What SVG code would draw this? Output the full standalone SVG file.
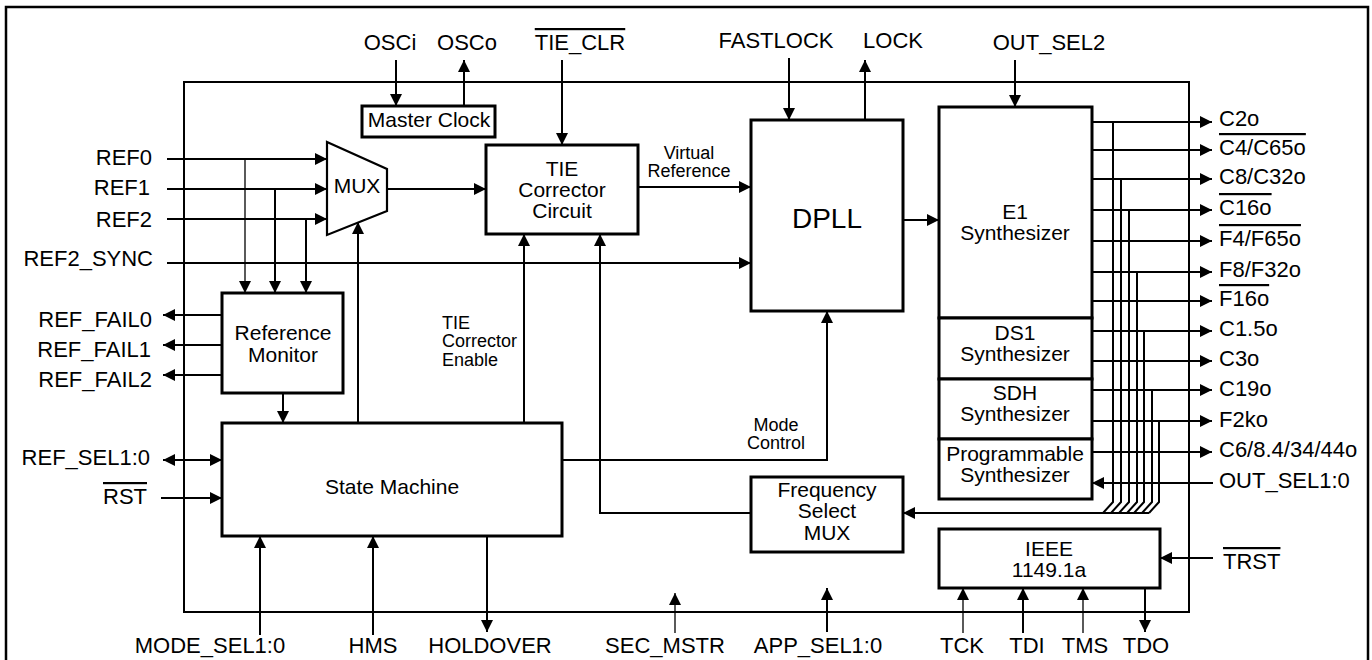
<svg xmlns="http://www.w3.org/2000/svg" width="1372" height="660" viewBox="0 0 1372 660">
<defs>
<style>
text{font-family:"Liberation Sans",Arial,sans-serif;fill:#000}
.lbl{font-size:22px}
.in{font-size:21px;text-anchor:middle}
.sm{font-size:18px}
.box{fill:#fff;stroke:#000;stroke-width:3}
.w{fill:none;stroke:#000;stroke-width:2}
.t{fill:none;stroke:#000;stroke-width:1.3}
.a{marker-end:url(#ah)}
.ol{text-decoration:overline}
</style>
<marker id="ah" viewBox="0 0 12 12" refX="12" refY="6" markerWidth="12" markerHeight="12" markerUnits="userSpaceOnUse" orient="auto-start-reverse">
<path d="M0,0 L12,6 L0,12 z" fill="#000"/>
</marker>
</defs>
<rect width="1372" height="660" fill="#fff"/>
<g id="frame">
<rect x="6" y="7" width="1362" height="670" fill="none" stroke="#000" stroke-width="2.5"/>
<rect x="184" y="82" width="1005" height="530" fill="none" stroke="#000" stroke-width="2"/>
</g>
<g id="master-clock"><rect class="box" x="362" y="106" width="133" height="31"/><text class="in" x="429" y="127">Master Clock</text></g>
<g id="mux"><path d="M327,142 L387,169 L387,211 L327,235 Z" fill="#fff" stroke="#000" stroke-width="2.2"/><text class="in" x="357" y="193">MUX</text></g>
<g id="tie-corrector"><rect class="box" x="486" y="145" width="152" height="89"/><text class="in" x="562" y="176">TIE</text><text class="in" x="562" y="197">Corrector</text><text class="in" x="562" y="218">Circuit</text></g>
<g id="dpll"><rect class="box" x="751" y="120" width="152" height="191"/><text x="827" y="228" font-size="28" text-anchor="middle">DPLL</text></g>
<g id="ref-monitor"><rect class="box" x="222" y="293" width="121" height="100"/><text class="in" x="283" y="340">Reference</text><text class="in" x="283" y="362">Monitor</text></g>
<g id="state-machine"><rect class="box" x="222" y="423" width="340" height="113"/><text class="in" x="392" y="494">State Machine</text></g>
<g id="freq-select"><rect class="box" x="751" y="477" width="152" height="75"/><text class="in" x="827" y="497">Frequency</text><text class="in" x="827" y="518">Select</text><text class="in" x="827" y="540">MUX</text></g>
<g id="e1-synth"><rect class="box" x="939" y="107" width="153" height="211"/><text class="in" x="1015" y="219">E1</text><text class="in" x="1015" y="240">Synthesizer</text></g>
<g id="ds1-synth"><rect class="box" x="939" y="318" width="153" height="61"/><text class="in" x="1015" y="340">DS1</text><text class="in" x="1015" y="361">Synthesizer</text></g>
<g id="sdh-synth"><rect class="box" x="939" y="379" width="153" height="60"/><text class="in" x="1015" y="400">SDH</text><text class="in" x="1015" y="421">Synthesizer</text></g>
<g id="prog-synth"><rect class="box" x="939" y="439" width="153" height="60"/><text class="in" x="1015" y="461">Programmable</text><text class="in" x="1015" y="482">Synthesizer</text></g>
<g id="ieee"><rect class="box" x="939" y="529" width="221" height="59"/><text class="in" x="1049" y="556">IEEE</text><text class="in" x="1049" y="577">1149.1a</text></g>
<g id="connectors">
<path class="w a" d="M396,60 V106"/>
<path class="w a" d="M464,106 V60"/>
<path class="w a" d="M562,60 V145"/>
<path class="w a" d="M789,58 V120"/>
<path class="w a" d="M865,120 V60"/>
<path class="w a" d="M1015,60 V107"/>
<path class="w a" d="M167,159 H327"/>
<path class="w a" d="M167,189 H327"/>
<path class="w a" d="M167,219 H327"/>
<path class="t a" d="M245,159 V293"/>
<path class="w a" d="M275,189 V293"/>
<path class="w a" d="M306,219 V293"/>
<path class="w a" d="M387,189 H486"/>
<path class="w a" d="M638,187 H751"/>
<path class="w a" d="M167,263 H751"/>
<path class="w a" d="M222,315 H163"/>
<path class="w a" d="M222,345 H163"/>
<path class="w a" d="M222,375 H163"/>
<path class="w a" d="M283,393 V423"/>
<path class="w a" d="M358,423 V222"/>
<path class="w a" d="M524,423 V234"/>
<path class="w a" d="M751,513 H600 V234"/>
<path class="w a" d="M562,460 H827 V311"/>
<path class="w a" d="M163,460 H222" marker-start="url(#ah)"/>
<path class="w a" d="M161,498 H222"/>
<path class="w a" d="M260,635 V536"/>
<path class="w a" d="M373,635 V536"/>
<path class="w a" d="M487,536 V632"/>
<path class="t a" d="M675,633 V593"/>
<path class="w a" d="M827,632 V588"/>
<path class="w a" d="M903,220 H939"/>
<path class="w a" d="M1092,122 H1212"/>
<path class="w a" d="M1092,150 H1212"/>
<path class="w a" d="M1092,179 H1212"/>
<path class="w a" d="M1092,210 H1212"/>
<path class="w a" d="M1092,241 H1212"/>
<path class="w a" d="M1092,272 H1212"/>
<path class="w a" d="M1092,301 H1212"/>
<path class="w a" d="M1092,331 H1212"/>
<path class="w a" d="M1092,361 H1212"/>
<path class="w a" d="M1092,390 H1212"/>
<path class="w a" d="M1092,421 H1212"/>
<path class="w a" d="M1092,452 H1212"/>
<path class="w" d="M1113,122 V502 L1103,513"/>
<path class="w" d="M1121,179 V502 L1111,513"/>
<path class="w" d="M1129,210 V502 L1119,513"/>
<path class="w" d="M1137,272 V502 L1127,513"/>
<path class="w" d="M1144,331 V502 L1134,513"/>
<path class="w" d="M1152,390 V502 L1142,513"/>
<path class="w" d="M1159,421 V502 L1149,513"/>
<path class="w a" d="M1149,513 H903" stroke-width="2.5"/>
<path class="w a" d="M1213,483 H1092"/>
<path class="w a" d="M1213,558 H1160"/>
<path class="t a" d="M963,633 V588"/>
<path class="w a" d="M1023,633 V588"/>
<path class="t a" d="M1083,633 V588"/>
<path class="w a" d="M1145,588 V632"/>
</g>
<g id="labels">
<g class="lbl" text-anchor="middle">
<text x="390" y="50">OSCi</text>
<text x="467" y="50">OSCo</text>
<text x="580" y="50" class="ol">TIE_CLR</text>
<text x="776" y="48">FASTLOCK</text>
<text x="893" y="48">LOCK</text>
<text x="1049" y="50">OUT_SEL2</text>
<text x="210" y="653">MODE_SEL1:0</text>
<text x="373" y="653">HMS</text>
<text x="490" y="653">HOLDOVER</text>
<text x="665" y="653">SEC_MSTR</text>
<text x="818" y="653">APP_SEL1:0</text>
<text x="962" y="653">TCK</text>
<text x="1027" y="653">TDI</text>
<text x="1085" y="653">TMS</text>
<text x="1146" y="653">TDO</text>
</g>
<g class="lbl" text-anchor="end">
<text x="152" y="165">REF0</text>
<text x="150" y="195">REF1</text>
<text x="152" y="227">REF2</text>
<text x="153" y="266">REF2_SYNC</text>
<text x="152" y="327">REF_FAIL0</text>
<text x="151" y="357">REF_FAIL1</text>
<text x="152" y="387">REF_FAIL2</text>
<text x="150" y="465">REF_SEL1:0</text>
<text x="147" y="504" class="ol">RST</text>
</g>
<g class="lbl">
<text x="1219" y="126">C2o</text>
<text x="1219" y="155" class="ol">C4/C65o</text>
<text x="1219" y="184">C8/C32o</text>
<text x="1219" y="215" class="ol">C16o</text>
<text x="1219" y="246" class="ol">F4/F65o</text>
<text x="1219" y="277">F8/F32o</text>
<text x="1219" y="306" class="ol">F16o</text>
<text x="1219" y="336">C1.5o</text>
<text x="1219" y="366">C3o</text>
<text x="1219" y="396">C19o</text>
<text x="1219" y="427">F2ko</text>
<text x="1219" y="457">C6/8.4/34/44o</text>
<text x="1219" y="488">OUT_SEL1:0</text>
<text x="1223" y="569" class="ol">TRST</text>
</g>
<g class="sm">
<text x="689" y="159" text-anchor="middle">Virtual</text>
<text x="689" y="177" text-anchor="middle">Reference</text>
<text x="442" y="329">TIE</text>
<text x="442" y="347">Corrector</text>
<text x="442" y="366">Enable</text>
<text x="776" y="431" text-anchor="middle">Mode</text>
<text x="776" y="449" text-anchor="middle">Control</text>
</g>
</g>
</svg>
